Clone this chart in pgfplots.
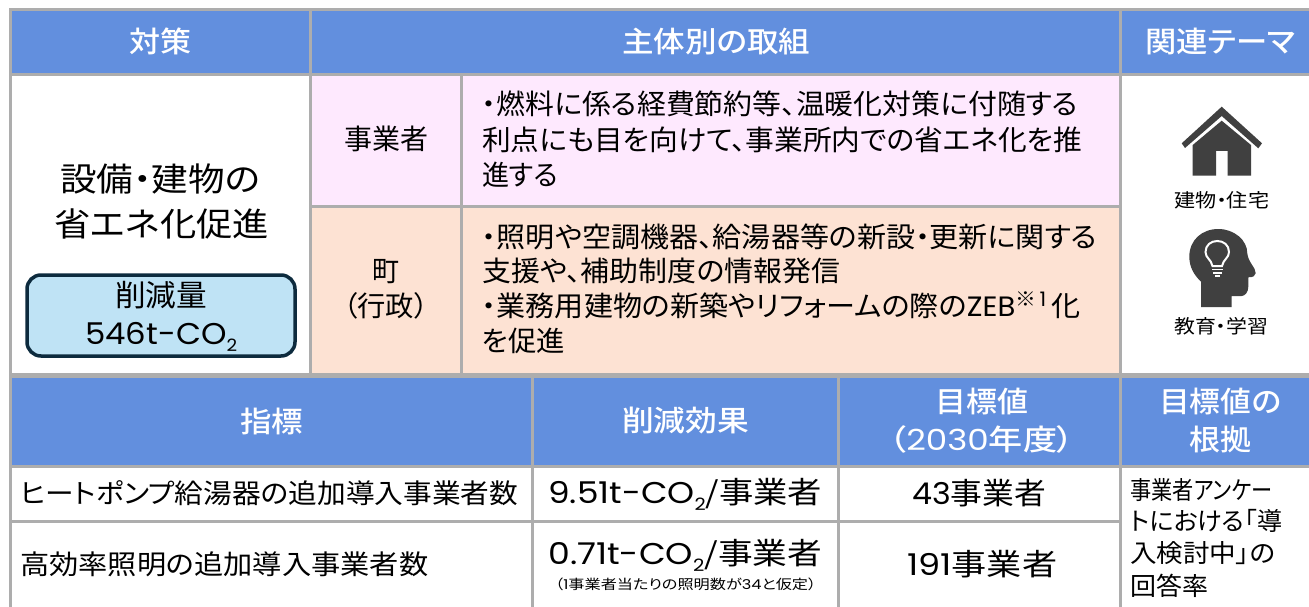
\documentclass[border=0pt]{standalone}
\usepackage{graphicx}
\usepackage{fontspec}
\usepackage{pgfplots}
\pgfplotsset{compat=1.18}
\setmainfont[RawFeature=+palt,BoldFont={Noto Sans CJK JP Medium}]{Noto Sans CJK JP}
\newfontfamily\lat{Poppins}
\newfontfamily\hv{Noto Sans CJK JP Bold}
\definecolor{hdr}{RGB}{98,143,222}
\definecolor{grd}{RGB}{173,173,173}
\definecolor{pnk}{RGB}{254,233,254}
\definecolor{pch}{RGB}{253,226,211}
\definecolor{boxf}{RGB}{191,227,245}
\definecolor{boxd}{RGB}{13,43,62}
\definecolor{ico}{RGB}{64,64,64}
% x0 x1 y size colour text
\newcommand{\T}[6]{\node[anchor=west,inner sep=0pt,text=#5] at (axis cs:#1,#3) {\fontsize{#4pt}{#4pt}\selectfont\rule{0pt}{.88em}\rule[-.12em]{0pt}{.12em}\resizebox{\dimexpr#2pt-#1pt\relax}{\height}{#6}};}
\newcommand{\Cell}[5]{\addplot[fill=#5,draw=grd,line width=3pt,line join=miter,forget plot] coordinates {(#1,#2)(#3,#2)(#3,#4)(#1,#4)} -- cycle;}
\newcommand{\sub}[1]{\raisebox{-.22em}{\fontsize{17pt}{17pt}\selectfont #1}}
\begin{document}
\begin{tikzpicture}
\begin{axis}[at={(0,0)},scale only axis,width=1309pt,height=607pt,xmin=0,xmax=1309,ymin=0,ymax=607,y dir=reverse,hide axis,clip=true]
\addplot[fill=white,draw=none,forget plot] coordinates {(0,0)(1309,0)(1309,607)(0,607)} -- cycle;
% upper table
\Cell{10}{10}{310}{75}{hdr}
\Cell{310}{10}{1120}{75}{hdr}
\Cell{1120}{10}{1320}{75}{hdr}
\Cell{10}{75}{310}{374}{white}
\Cell{310}{75}{461}{206}{pnk}
\Cell{461}{75}{1120}{206}{pnk}
\Cell{310}{206}{461}{374}{pch}
\Cell{461}{206}{1120}{374}{pch}
\Cell{1120}{75}{1320}{374}{white}
% lower table
\Cell{10}{376}{532}{466}{hdr}
\Cell{532}{376}{838}{466}{hdr}
\Cell{838}{376}{1120}{466}{hdr}
\Cell{1120}{376}{1320}{466}{hdr}
\Cell{10}{466}{532}{521}{white}
\Cell{532}{466}{838}{521}{white}
\Cell{838}{466}{1120}{521}{white}
\Cell{10}{521}{532}{620}{white}
\Cell{532}{521}{838}{620}{white}
\Cell{838}{521}{1120}{620}{white}
\Cell{1120}{466}{1320}{620}{white}
% headers
\T{129}{191}{41}{29}{white}{\bfseries 対策}
\T{622}{810}{41}{29}{white}{\bfseries 主体別の取組}
\T{1145}{1295}{41}{29}{white}{\bfseries 関連テーマ}
\T{240}{303}{421}{29}{white}{\bfseries 指標}
\T{622}{749}{420}{29}{white}{\bfseries 削減効果}
\T{935}{1028}{401}{29}{white}{\bfseries 目標値}
\T{889}{1074}{439}{29}{white}{\bfseries （{\mdseries\lat 2030}年度）}
\T{1159}{1281}{401}{29}{white}{\bfseries 目標値の}
\T{1189}{1251}{439}{29}{white}{\bfseries 根拠}
% left cell
\T{60}{260}{179}{33}{black}{設備・建物の}
\T{54}{269}{224}{33}{black}{省エネ化促進}
\draw[boxd,fill=boxf,line width=3.5pt,rounded corners=14pt] (27,275) rectangle (295,356);
\T{115}{207}{295}{30}{black}{削減量}
\T{85}{237}{335}{30}{black}{{\lat 546t-CO}\sub{\lat 2}}
% actors
\T{344}{428}{139}{28}{black}{事業者}
\T{372}{399}{271}{28}{black}{町}
\T{343}{428}{306}{28}{black}{（行政）}
% body
\T{482}{1078}{104}{28}{black}{・燃料に係る経費節約等、温暖化対策に付随する}
\T{482}{1082}{140}{28}{black}{利点にも目を向けて、事業所内での省エネ化を推}
\T{482}{558}{175}{28}{black}{進する}
\T{482}{1097}{237}{28}{black}{・照明や空調機器、給湯器等の新設・更新に関する}
\T{482}{840}{271}{28}{black}{支援や、補助制度の情報発信}
\T{482}{1080}{306}{28}{black}{・業務用建物の新築やリフォームの際の{\lat ZEB}\raisebox{.36em}{\fontsize{20pt}{20pt}\selectfont{\hv ※}{\lat\,1}}\,化}
\T{482}{565}{341}{28}{black}{を促進}
% icons
\fill[ico] (1221.7,106.7) -- (1262,143.3) -- (1258.3,148.3) -- (1221.7,116) -- (1185,148) -- (1181.7,143.3) -- cycle;
\fill[ico] (1221.7,120.7) -- (1251,145) -- (1251,175.7) -- (1227.7,175.7) -- (1227.7,151) -- (1216,151) -- (1216,175.7) -- (1192.7,175.7) -- (1192.7,145) -- cycle;
\T{1174}{1269}{200}{19}{black}{建物・住宅}
\fill[ico] (1201,307) -- (1201,281.7) .. controls (1194,275) and (1189.3,267) .. (1189.3,256.7) .. controls (1189.3,240) and (1202,229) .. (1218.3,229) .. controls (1234,229) and (1247.3,240) .. (1247.3,253.3) .. controls (1248,262) and (1256,268) .. (1255.7,273.3) .. controls (1255.5,276) and (1253,277.3) .. (1248.3,277.3) -- (1248.3,286.7) .. controls (1248.3,292) and (1245,296) .. (1241.7,296) -- (1231.7,296) -- (1231.7,307) -- cycle;
\draw[white,line width=2pt] (1212.5,266) .. controls (1211,259) and (1205.5,258) .. (1205.5,252) .. controls (1205.5,245) and (1211,241) .. (1217.3,241) .. controls (1223.5,241) and (1229,245) .. (1229,252) .. controls (1229,258) and (1223.5,259) .. (1222,266) -- cycle;
\draw[white,line width=1.8pt] (1212,269.5) -- (1223,269.5);
\draw[white,line width=1.8pt] (1213,272.8) -- (1222,272.8);
\draw[white,line width=1.8pt] (1215,275.6) -- (1220,275.6);
\T{1174}{1268}{326}{19}{black}{教育・学習}
% lower cells
\T{20}{518}{493}{27}{black}{ヒートポンプ給湯器の追加導入事業者数}
\T{20}{428}{564}{27}{black}{高効率照明の追加導入事業者数}
\T{548}{822}{494}{30}{black}{{\lat 9.51t-CO}\sub{\lat 2}/事業者}
\T{548}{822}{555}{30}{black}{{\lat 0.71t-CO}\sub{\lat 2}/事業者}
\T{555}{816}{584}{13.5}{black}{（{\lat 1}事業者当たりの照明数が{\lat 34}と仮定）}
\T{912}{1046}{493}{30}{black}{{\lat 43}事業者}
\T{907}{1057}{564}{30}{black}{{\lat 191}事業者}
\T{1130}{1272}{490}{25}{black}{事業者アンケー}
\T{1130}{1282}{521}{25}{black}{トにおける「導}
\T{1130}{1275}{553}{25}{black}{入検討中」の}
\T{1130}{1208}{586}{25}{black}{回答率}
\end{axis}
\end{tikzpicture}
\end{document}
